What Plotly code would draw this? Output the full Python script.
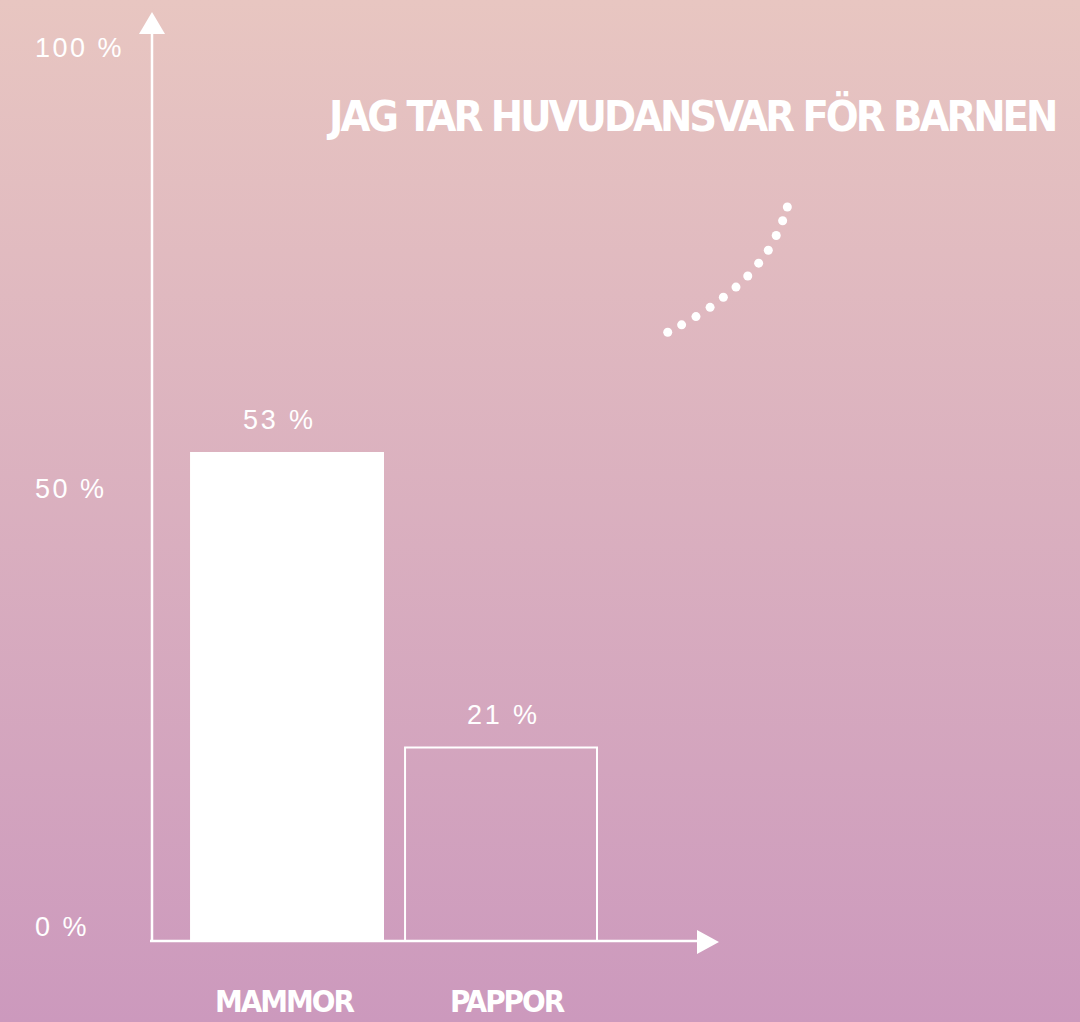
import base64
import plotly.graph_objects as go

# data
categories = ['MAMMOR', 'PAPPOR']
positions = [0, 1]
shares = [53, 21]
share_labels = ['53 %', '21 %']
tick_values = [0, 50, 100]
tick_labels = ['0 %', '50 %', '100 %']
title_text = 'JAG TAR HUVUDANSVAR FÖR BARNEN'

# decorative dotted arc (in axis units)
arc_x = [1.779, 1.844, 1.911, 1.977, 2.039, 2.098, 2.153, 2.204, 2.249, 2.286, 2.316, 2.338]
arc_y = [66.1, 66.9, 67.8, 68.8, 69.9, 71.0, 72.2, 73.6, 75.0, 76.6, 78.2, 79.7]

W, H = 1080, 1022
L, R, T, B = 152, 0, 12, 81
pw, ph = W - L - R, H - T - B

hand = 'DejaVu Sans Condensed, Liberation Sans Narrow, sans-serif'
plain = 'Liberation Sans, Arial, sans-serif'


def px(x):
    return (x - L) / pw


def py(y):
    return (H - B - y) / ph


def spaced(t, s):
    return f'<span style="letter-spacing:{s}px">{t}</span>'


# vertical gradient background as svg
svg = ('<svg xmlns="http://www.w3.org/2000/svg" width="1080" height="1022" preserveAspectRatio="none">'
       '<defs><linearGradient id="g" x1="0" y1="0" x2="0" y2="1">'
       '<stop offset="0" stop-color="#e8c6c1"/><stop offset="1" stop-color="#cc99bd"/>'
       '</linearGradient></defs><rect width="1080" height="1022" fill="url(#g)"/></svg>')
bg = 'data:image/svg+xml;base64,' + base64.b64encode(svg.encode()).decode()

fig = go.Figure()
fig.add_trace(
    go.Bar(
        x=positions,
        y=shares,
        width=0.897,
        marker=dict(color=['white', 'rgba(0,0,0,0)'],
                    line=dict(color='white', width=2)),
        hoverinfo='skip'
    )
)
fig.add_trace(
    go.Scatter(
        x=arc_x, y=arc_y, mode='markers',
        marker=dict(color='white', size=9),
        cliponaxis=False, hoverinfo='skip'
    )
)

ann = []
for p, v, t, s in zip(positions, shares, share_labels, [-8, 2]):
    ann.append(dict(x=p, y=v, text=spaced(t, 2.8), showarrow=False, yshift=33, xshift=s,
                    font=dict(family=plain, size=27, color='white')))
for v, t, s in zip(tick_values, tick_labels, [14, -8, -28]):
    ann.append(dict(xref='paper', x=px(33), xanchor='left', y=v, yref='y',
                    text=spaced(t, 2.5), showarrow=False, yshift=s,
                    font=dict(family=plain, size=27, color='white')))
for p, c, s in zip(positions, categories, [-2, 6]):
    ann.append(dict(x=p, yref='paper', y=py(1001), text='<b>' + spaced(c, -2) + '</b>',
                    showarrow=False, yanchor='middle', xshift=s,
                    font=dict(family=hand, size=31, color='white')))
ann.append(dict(xref='paper', x=px(1057), xanchor='right', yref='paper',
                y=py(116), yanchor='middle', text='<b>' + spaced(title_text, -3) + '</b>',
                showarrow=False, font=dict(family=hand, size=43, color='white')))

shapes = [
    dict(type='path', xref='paper', yref='paper', fillcolor='white', line=dict(width=0),
         path=f'M {px(152)} {py(12)} L {px(139)} {py(34)} L {px(165)} {py(34)} Z'),
    dict(type='path', xref='paper', yref='paper', fillcolor='white', line=dict(width=0),
         path=f'M {px(719)} {py(942)} L {px(697)} {py(930)} L {px(697)} {py(954)} Z'),
    dict(type='line', xref='paper', yref='paper', x0=px(150), x1=px(700), y0=py(941), y1=py(941),
         line=dict(color='white', width=2.5)),
    dict(type='line', xref='paper', yref='paper', x0=px(152), x1=px(152), y0=py(942), y1=py(25),
         line=dict(color='white', width=2.5)),
]

fig.update_layout(
    width=W, height=H,
    margin=dict(l=L, r=R, t=T, b=B),
    paper_bgcolor='#dab0c0',
    plot_bgcolor='rgba(0,0,0,0)',
    showlegend=False,
    xaxis=dict(range=[-0.631, 3.7056], showgrid=False, zeroline=False, showline=False,
               showticklabels=False, ticks=''),
    yaxis=dict(range=[0, 100.87], showgrid=False, zeroline=False, showline=False,
               showticklabels=False, ticks=''),
    annotations=ann,
    shapes=shapes,
    images=[dict(source=bg, xref='paper', yref='paper', x=-L / pw, y=1 + T / ph,
                 sizex=W / pw, sizey=H / ph, sizing='stretch', xanchor='left',
                 yanchor='top', layer='below')]
)
fig.write_html('out.html', config={'displayModeBar': False},
               post_script="document.body.style.margin='0';")
